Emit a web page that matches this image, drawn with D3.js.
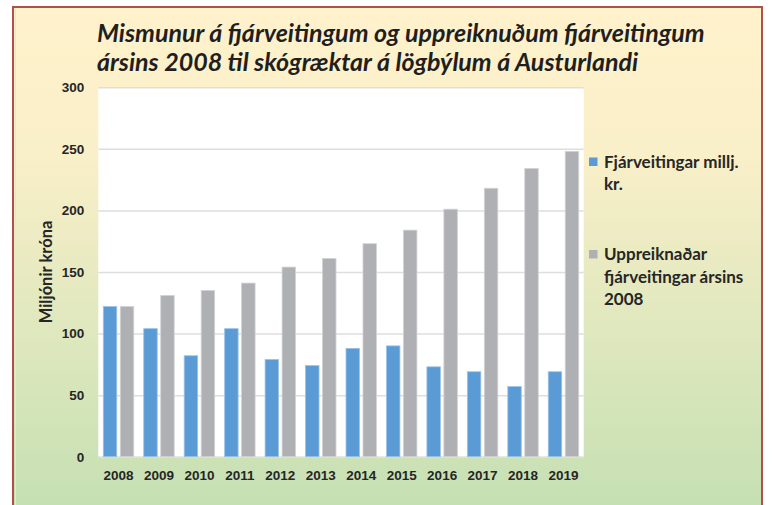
<!DOCTYPE html>
<html>
<head>
<meta charset="utf-8">
<script src="https://cdn.jsdelivr.net/npm/d3@7"></script>
<style>
  body { margin: 0; background: #ffffff; }
  svg { display: block; font-family: Lato, "Open Sans", sans-serif; }
  .axis text { font-size: 13.5px; font-weight: bold; fill: #262626; }
  .legend-text { font-size: 17px; font-weight: bold; fill: #262626; }
</style>
</head>
<body>
<div id="chart"></div>
<script>
// data
const years = ['2008', '2009', '2010', '2011', '2012', '2013', '2014', '2015', '2016', '2017', '2018', '2019']
const fjarveitingar = [122, 104, 82, 104, 79, 74, 88, 90, 73, 69, 57, 69]
const uppreiknadar = [122, 131, 135, 141, 154, 161, 173, 184, 201, 218, 234, 248]
const seriesNames = ['Fjárveitingar millj. kr.', 'Uppreiknaðar fjárveitingar ársins 2008']
const legendLines = [['Fjárveitingar millj.', 'kr.'], ['Uppreiknaðar', 'fjárveitingar ársins', '2008']]
const yTicks = [0, 50, 100, 150, 200, 250, 300]
const titleLines = ['Mismunur á fjárveitingum og uppreiknuðum fjárveitingum', 'ársins 2008 til skógræktar á lögbýlum á Austurlandi']
const yTitle = 'Miljónir króna'

const config = {
    width: 775,
    height: 505,
    plot: { left: 98.3, right: 583.7, top: 87.3, bottom: 456.7 },
    colors: ['#5b9bd5', '#afb0b3']
}

const data = years.map((y, i) => ({ year: y, values: [fjarveitingar[i], uppreiknadar[i]] }))

const svg = d3.select('#chart').append('svg')
    .attr('width', config.width)
    .attr('height', config.height)

// background panel
const defs = svg.append('defs')
const grad = defs.append('linearGradient')
    .attr('id', 'bg')
    .attr('x1', 0).attr('y1', 0).attr('x2', 0).attr('y2', 1)
grad.append('stop').attr('offset', '0%').attr('stop-color', '#fff2cc')
grad.append('stop').attr('offset', '30%').attr('stop-color', '#f9efc8')
grad.append('stop').attr('offset', '100%').attr('stop-color', '#c5e0b3')

svg.append('rect')
    .attr('x', 13).attr('y', 7)
    .attr('width', 749).attr('height', 500)
    .attr('fill', 'url(#bg)')
svg.append('line')
    .attr('x1', 15.5).attr('x2', 15.5).attr('y1', 8).attr('y2', 505)
    .attr('stroke', '#e4e4e4').attr('stroke-width', 1)
svg.append('path')
    .attr('d', 'M13,505 L13,7 L762,7 L762,505')
    .attr('fill', 'none')
    .attr('stroke', '#b0504d')
    .attr('stroke-width', 2)

// title
svg.append('g').selectAll('text')
    .data(titleLines)
    .join('text')
    .attr('x', 97)
    .attr('y', (d, i) => 42 + i * 29)
    .attr('font-size', 25)
    .attr('font-weight', 'bold')
    .attr('font-style', 'italic')
    .attr('fill', '#1f1f1f')
    .text(d => d)

const p = config.plot
svg.append('rect')
    .attr('x', p.left).attr('y', p.top)
    .attr('width', p.right - p.left).attr('height', p.bottom - p.top)
    .attr('fill', '#ffffff')

const xScale = d3.scaleBand()
    .domain(years)
    .range([p.left, p.right])
    .paddingInner(0.247)
    .paddingOuter(0.1235)
const xSub = d3.scaleBand()
    .domain([0, 1])
    .range([0, xScale.bandwidth()])
    .paddingInner(0.206)
const yScale = d3.scaleLinear()
    .domain([0, 300])
    .range([p.bottom, p.top])

const yAxis = d3.axisLeft(yScale)
    .tickValues(yTicks)
    .tickSizeInner(-(p.right - p.left))
    .tickSizeOuter(0)
    .tickPadding(14)
const yAxisGroup = svg.append('g')
    .attr('class', 'axis y-axis')
    .attr('transform', `translate(${p.left},0)`)
    .call(yAxis)
yAxisGroup.select('.domain').remove()
yAxisGroup.selectAll('line').attr('stroke', '#dedede').attr('stroke-width', 1.5)

const xAxis = d3.axisBottom(xScale).tickSize(0).tickPadding(14)
const xAxisGroup = svg.append('g')
    .attr('class', 'axis x-axis')
    .attr('transform', `translate(0,${p.bottom})`)
    .call(xAxis)
xAxisGroup.select('.domain').remove()

// bars
svg.append('g').selectAll('g')
    .data(data)
    .join('g')
    .attr('transform', d => `translate(${xScale(d.year)},0)`)
    .selectAll('rect')
    .data(d => d.values.map((v, i) => ({ v, i })))
    .join('rect')
    .attr('class', 'bar')
    .attr('x', d => xSub(d.i))
    .attr('y', d => yScale(d.v))
    .attr('width', xSub.bandwidth())
    .attr('height', d => yScale(0) - yScale(d.v))
    .attr('fill', d => config.colors[d.i])
    .attr('stroke', d => d.i === 0 ? '#9cc3e8' : '#d2d3d5')
    .attr('stroke-width', 0.8)

// y axis title
svg.append('text')
    .attr('transform', 'translate(52,272) rotate(-90)')
    .attr('text-anchor', 'middle')
    .attr('font-size', 16.5)
    .attr('font-weight', 'bold')
    .attr('fill', '#262626')
    .text(yTitle)

// legend
const legendTop = [157.5, 250]
const legend = svg.append('g').selectAll('g')
    .data(seriesNames)
    .join('g')
    .attr('transform', (d, i) => `translate(589,${legendTop[i]})`)
legend.append('rect')
    .attr('width', 8.5).attr('height', 8.5)
    .attr('fill', (d, i) => config.colors[i])
legend.append('text')
    .attr('class', 'legend-text')
    .selectAll('tspan')
    .data((d, i) => legendLines[i])
    .join('tspan')
    .attr('x', 15)
    .attr('y', (d, j) => 10 + j * 22.5)
    .text(d => d)
</script>
</body>
</html>
